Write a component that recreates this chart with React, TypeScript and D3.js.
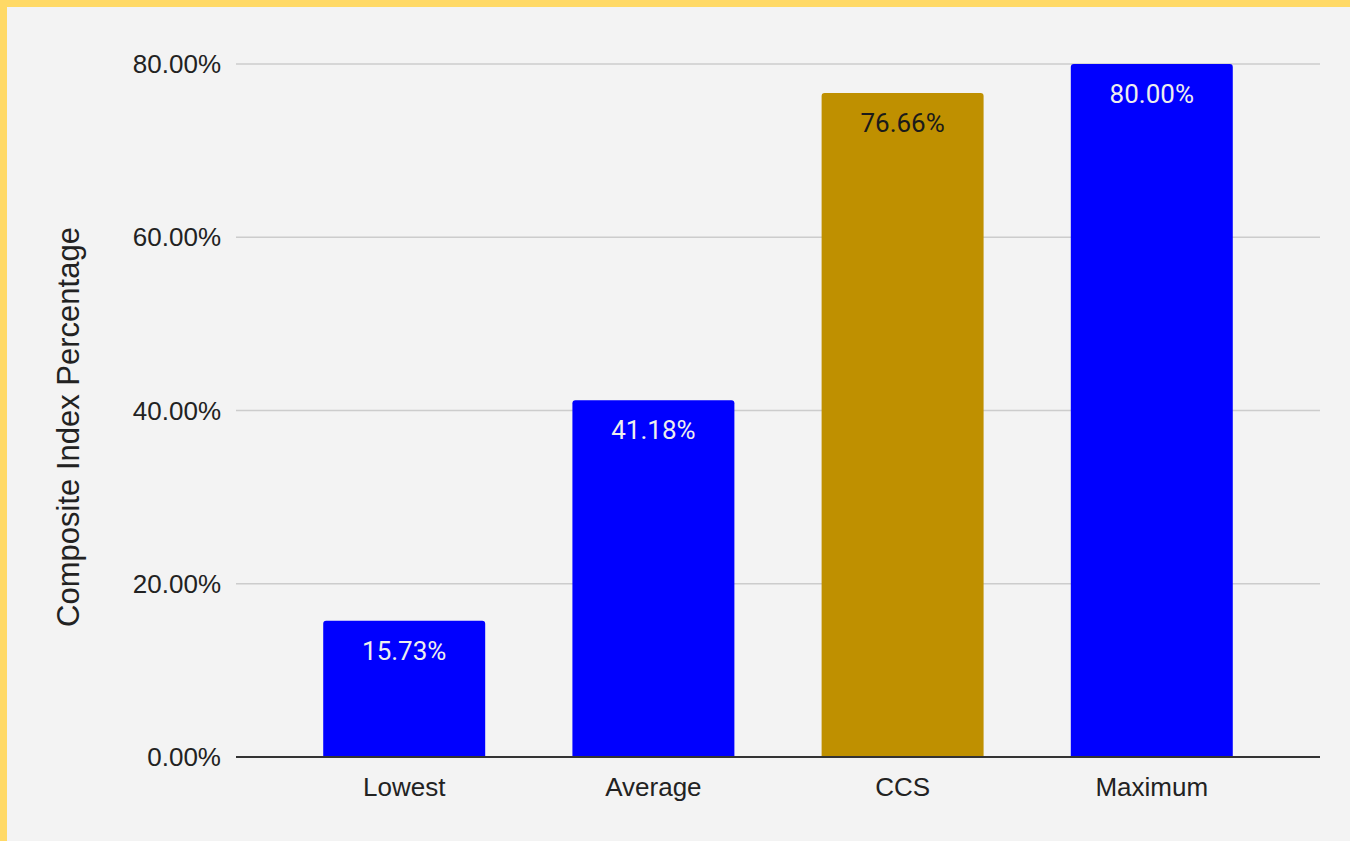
import React from "react";
import * as d3 from "d3";

const categories = ["Lowest", "Average", "CCS", "Maximum"];
const values = [15.73, 41.18, 76.66, 80.0];
const barColors = ["#0000ff", "#0000ff", "#bf9000", "#0000ff"];
const labelColors = ["#eeeeee", "#eeeeee", "#1a1a1a", "#eeeeee"];
const yTicks = [0, 20, 40, 60, 80];

const W = 1350;
const H = 841;
const FONT = "'Liberation Sans', Arial, sans-serif";
const LABEL_FONT = "Roboto, 'Noto Sans', sans-serif";

export default function App() {
  const x = d3.scaleBand<string>().domain(categories).range([236, 1320]).padding(0.35);
  const y = d3.scaleLinear().domain([0, 80]).range([757, 64]);
  const fmt = (v: number) => v.toFixed(2) + "%";

  const barPath = (x0: number, y0: number, w: number, h: number, r: number) =>
    `M${x0},${y0 + h}V${y0 + r}Q${x0},${y0} ${x0 + r},${y0}H${x0 + w - r}Q${x0 + w},${y0} ${x0 + w},${y0 + r}V${y0 + h}Z`;

  return (
    <div style={{ position: "fixed", left: 0, top: 0 }}>
      <svg width={W} height={H} style={{ display: "block" }}>
        <rect x={0} y={0} width={W} height={H} fill="#ffd966" />
        <rect x={7} y={7} width={W - 7} height={H - 7} fill="#f3f3f3" />
        {yTicks.map((t) => (
          <g key={t}>
            {t !== 0 && (
              <line x1={236} x2={1320} y1={y(t)} y2={y(t)} stroke="#cccccc" strokeWidth={1.5} />
            )}
            <text
              x={221}
              y={y(t)}
              dy="0.35em"
              textAnchor="end"
              fontFamily={FONT}
              fontSize={26}
              fill="#222"
            >
              {fmt(t)}
            </text>
          </g>
        ))}
        {categories.map((c, i) => {
          const bx = x(c)!;
          const bw = x.bandwidth();
          const by = y(values[i]);
          const bh = y(0) - by;
          return (
            <g key={c}>
              <path d={barPath(bx, by, bw, bh, 3)} fill={barColors[i]} />
              <text
                x={bx + bw / 2}
                y={by + 30}
                dy="0.35em"
                textAnchor="middle"
                fontFamily={LABEL_FONT}
                fontSize={26}
                fill={labelColors[i]}
              >
                {fmt(values[i])}
              </text>
              <text
                x={bx + bw / 2}
                y={787}
                dy="0.35em"
                textAnchor="middle"
                fontFamily={FONT}
                fontSize={26}
                fill="#222"
              >
                {c}
              </text>
            </g>
          );
        })}
        <line x1={236} x2={1320} y1={y(0)} y2={y(0)} stroke="#333" strokeWidth={2} />
        <text
          transform={`translate(68,427) rotate(-90)`}
          dy="0.35em"
          textAnchor="middle"
          fontFamily={FONT}
          fontSize={31}
          fill="#222"
        >
          Composite Index Percentage
        </text>
      </svg>
    </div>
  );
}
